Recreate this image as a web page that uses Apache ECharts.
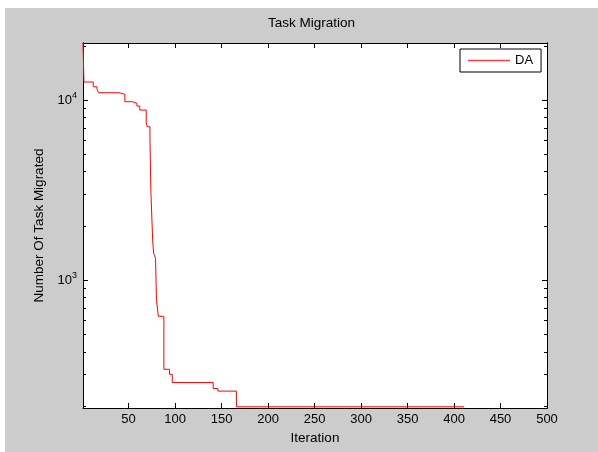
<!DOCTYPE html>
<html>
<head>
<meta charset="utf-8">
<script src="https://cdn.jsdelivr.net/npm/echarts@6/dist/echarts.min.js"></script>
<style>
  html, body { margin: 0; padding: 0; background: #fff; }
  #chart { width: 598px; height: 452px; }
</style>
</head>
<body>
<div id="chart"></div>
<script>
// iteration at which the number of migrated tasks changes, and its new value
var iterations = [1, 2, 12, 16, 18, 40, 46, 54, 59, 62, 69, 70, 73, 74, 76, 77, 79, 80, 82, 88, 94, 97, 141, 146, 166, 411];
var migrated = [20740, 12600, 11850, 11470, 10980, 10760, 9790, 9590, 9260, 8800, 7480, 7110, 6130, 3100, 1630, 1410, 1320, 780, 630, 320, 300, 270, 250, 242, 198, 198];
var xTicks = [50, 100, 150, 200, 250, 300, 350, 400, 450, 500];
var yMajor = [1000, 10000];
var yMinor = [200, 300, 400, 500, 600, 700, 800, 900, 2000, 3000, 4000, 5000, 6000, 7000, 8000, 9000, 20000];

var yMinLog = Math.log10(195);
var yMaxLog = Math.log10(20740);
var font = 'Liberation Sans, Arial, sans-serif';

var chart = echarts.init(document.getElementById('chart'));

function lg(a) { return a.map(function (v) { return Math.log10(v); }); }

function yAxisBase(pos, ticks, len) {
    return {
        type: 'value',
        position: pos,
        min: yMinLog,
        max: yMaxLog,
        splitLine: { show: false },
        axisLine: { show: true, lineStyle: { color: '#000', width: 1 } },
        axisTick: { show: true, inside: true, length: len, customValues: lg(ticks), lineStyle: { color: '#000' } },
        axisLabel: { show: false }
    };
}

var left = yAxisBase('left', yMajor, 5);
left.name = 'Number Of Task Migrated';
left.nameLocation = 'middle';
left.nameGap = 34;
left.nameTextStyle = { fontFamily: font, fontSize: 13.5, color: '#000' };
left.axisLabel = {
    show: true,
    margin: 6,
    customValues: lg(yMajor),
    formatter: function (v) { return '{b|10}{s|' + Math.round(v) + '}'; },
    rich: {
        b: { fontFamily: font, fontSize: 13, color: '#000' },
        s: { fontFamily: font, fontSize: 9, color: '#000', padding: [0, 0, 10, 0] }
    }
};

function xAxisBase(pos) {
    return {
        type: 'value',
        position: pos,
        min: 1,
        max: 500,
        splitLine: { show: false },
        axisLine: { show: true, onZero: false, lineStyle: { color: '#000', width: 1 } },
        axisTick: { show: true, inside: true, length: 5, customValues: xTicks, lineStyle: { color: '#000' } },
        axisLabel: { show: false }
    };
}

var bottom = xAxisBase('bottom');
bottom.name = 'Iteration';
bottom.nameLocation = 'middle';
bottom.nameGap = 21;
bottom.nameTextStyle = { fontFamily: font, fontSize: 13.5, color: '#000' };
bottom.axisLabel = { show: true, margin: 5, customValues: xTicks, fontFamily: font, fontSize: 13, color: '#000' };

var option = {
    backgroundColor: '#cccccc',
    animation: false,
    graphic: [
        { type: 'rect', shape: { x: 0, y: 0, width: 598, height: 8 }, style: { fill: '#fff' } },
        { type: 'rect', shape: { x: 0, y: 0, width: 5, height: 452 }, style: { fill: '#fff' } }
    ],
    title: {
        text: 'Task Migration',
        left: 268,
        top: 16,
        padding: 0,
        textStyle: { fontFamily: font, fontSize: 13.5, fontWeight: 'normal', color: '#000' }
    },
    legend: {
        data: [{ name: 'DA', icon: 'rect' }],
        left: 460,
        top: 49,
        orient: 'vertical',
        backgroundColor: '#fff',
        borderColor: '#000',
        borderWidth: 1,
        borderRadius: 0,
        padding: [5, 8, 5, 8],
        itemWidth: 42,
        itemHeight: 1.5,
        itemStyle: { color: '#ff4040' },
        textStyle: { fontFamily: font, fontSize: 13, color: '#000' }
    },
    grid: {
        left: 83,
        right: 51,
        top: 43,
        bottom: 44,
        show: true,
        backgroundColor: '#fff',
        borderWidth: 0
    },
    xAxis: [bottom, xAxisBase('top')],
    yAxis: [left, yAxisBase('left', yMinor, 3), yAxisBase('right', yMajor, 5), yAxisBase('right', yMinor, 3)],
    series: [{
        name: 'DA',
        type: 'line',
        step: 'end',
        symbol: 'none',
        xAxisIndex: 0,
        yAxisIndex: 0,
        lineStyle: { color: '#ff0000', width: 1 },
        itemStyle: { color: '#ff0000' },
        data: iterations.map(function (it, i) { return [it, Math.log10(migrated[i])]; })
    }]
};

chart.setOption(option);
</script>
</body>
</html>
